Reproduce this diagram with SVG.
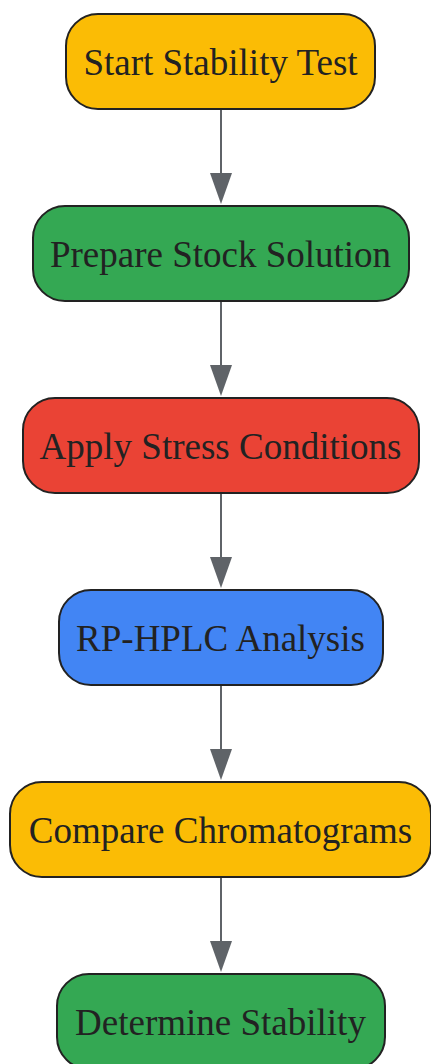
<svg xmlns="http://www.w3.org/2000/svg" width="431" height="1064" viewBox="0 0 431 1064">
<style>
.n rect{stroke:#222;stroke-width:2}
.n text{font-family:"Liberation Serif","Times New Roman",serif;font-size:37px;fill:#222;text-anchor:middle}
.e line{stroke:#5f6368;stroke-width:2}
.e polygon{fill:#5f6368}
</style>
<rect width="431" height="1064" fill="#fff"/>
<g id="connectors" class="e">
<line x1="221" y1="110" x2="221" y2="175"/><polygon points="210,173 232,173 221,204"/>
<line x1="221" y1="302" x2="221" y2="367"/><polygon points="210,365 232,365 221,396"/>
<line x1="221" y1="494" x2="221" y2="559"/><polygon points="210,557 232,557 221,588"/>
<line x1="221" y1="686" x2="221" y2="751"/><polygon points="210,749 232,749 221,780"/>
<line x1="221" y1="878" x2="221" y2="943"/><polygon points="210,941 232,941 221,972"/>
</g>
<g id="n1" class="n"><rect x="66" y="14" width="309" height="95" rx="32" fill="#FBBC05"/><text x="220.5" y="75">Start Stability Test</text></g>
<g id="n2" class="n"><rect x="33" y="206" width="376" height="95" rx="32" fill="#34A853"/><text x="220.5" y="267">Prepare Stock Solution</text></g>
<g id="n3" class="n"><rect x="23" y="398" width="396" height="95" rx="32" fill="#EA4335"/><text x="220.5" y="459">Apply Stress Conditions</text></g>
<g id="n4" class="n"><rect x="59" y="590" width="324" height="95" rx="32" fill="#4285F4"/><text x="220.5" y="651">RP-HPLC Analysis</text></g>
<g id="n5" class="n"><rect x="10" y="782" width="421" height="95" rx="32" fill="#FBBC05"/><text x="220.5" y="843">Compare Chromatograms</text></g>
<g id="n6" class="n"><rect x="57" y="974" width="328" height="95" rx="32" fill="#34A853"/><text x="220.5" y="1035">Determine Stability</text></g>
</svg>
